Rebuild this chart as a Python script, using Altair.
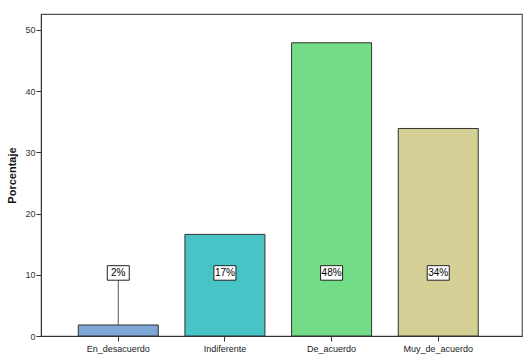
import altair as alt
import pandas as pd

categories = ["En_desacuerdo", "Indiferente", "De_acuerdo", "Muy_de_acuerdo"]
values = [1.8, 16.6, 47.9, 33.9]
labels = ["2%", "17%", "48%", "34%"]
colors = ["#7ea7d8", "#48c3c6", "#72dc86", "#d3cf95"]
label_level = 10.3

df = pd.DataFrame({"cat": categories, "val": values, "lab": labels,
                   "lvl": [label_level] * len(categories)})

xenc = alt.X("cat:N", sort=categories, title=None,
             scale=alt.Scale(paddingInner=0.25, paddingOuter=0.38, align=0.46),
             axis=alt.Axis(labelAngle=0, labelFont="Liberation Sans", labelFontSize=9,
                           labelColor="#222", tickColor="#333", tickSize=5,
                           domainColor="#333", labelPadding=3))
yscale = alt.Scale(domain=[0, 52.6], nice=False)

bars = alt.Chart(df).mark_bar(stroke="#333", strokeWidth=1).encode(
    x=xenc,
    y=alt.Y("val:Q", scale=yscale, title="Porcentaje",
            axis=alt.Axis(values=[0, 10, 20, 30, 40, 50], grid=False, tickSize=5,
                          tickColor="#333", domainColor="#333", labelColor="#333",
                          labelFont="Liberation Sans", labelFontSize=9, labelPadding=1,
                          titleFont="Liberation Sans", titleFontSize=11,
                          titleFontWeight="bold", titleColor="#111", titlePadding=7)),
    color=alt.Color("cat:N", scale=alt.Scale(domain=categories, range=colors), legend=None),
)

leader = alt.Chart(df).transform_filter("datum.val < datum.lvl").mark_rule(
    color="#555", strokeWidth=1).encode(
    x=alt.X("cat:N", sort=categories),
    y=alt.Y("val:Q", scale=yscale),
    y2="lvl:Q",
)

boxes = alt.Chart(df).mark_point(
    shape="M-1,-0.66H1V0.66H-1Z", size=484, filled=True, fill="white",
    stroke="#222", strokeWidth=1, opacity=1).encode(
    x=alt.X("cat:N", sort=categories),
    y=alt.Y("lvl:Q", scale=yscale),
)

texts = alt.Chart(df).mark_text(font="Liberation Sans", fontSize=10, color="#000",
                                baseline="middle", align="center").encode(
    x=alt.X("cat:N", sort=categories),
    y=alt.Y("lvl:Q", scale=yscale),
    text="lab:N",
)

chart = alt.layer(bars, leader, boxes, texts).properties(
    width=481, height=322,
    autosize=alt.AutoSizeParams(type="none"),
    padding={"left": 41, "top": 14, "right": 6, "bottom": 23},
    background="white",
).configure_view(stroke="#555", strokeWidth=1.2)

chart.save("out.html", embed_options={"renderer": "svg", "actions": False})
